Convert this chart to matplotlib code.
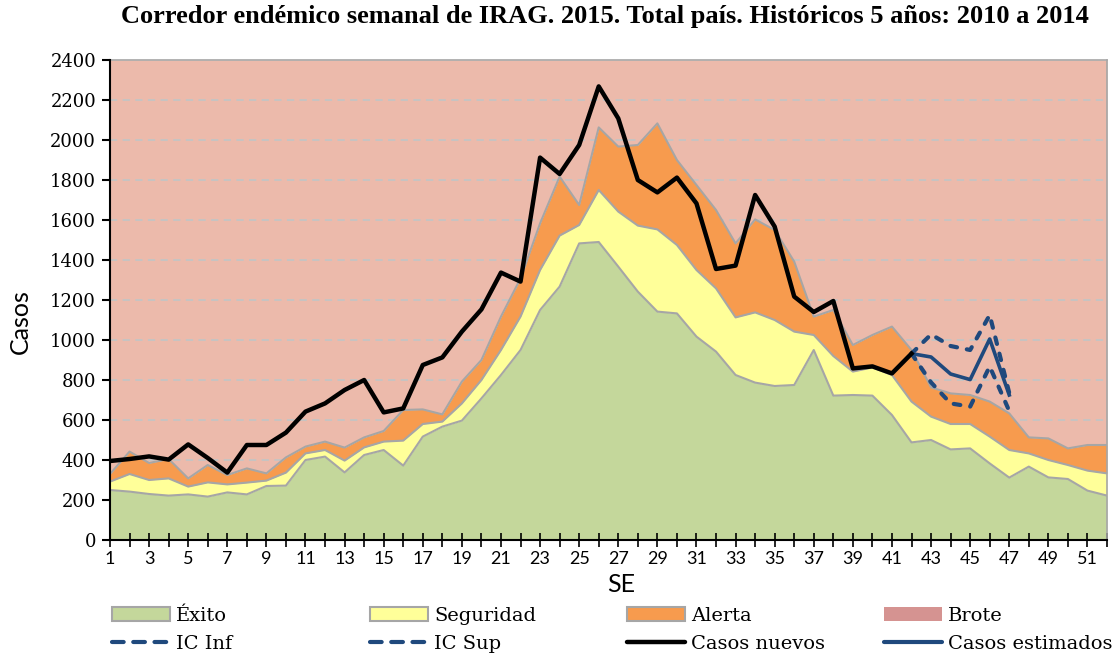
import matplotlib.pyplot as plt
from matplotlib.patches import Patch
from matplotlib.lines import Line2D

# semanas epidemiologicas
semanas = list(range(1, 53))

# limites del corredor (valores acumulados)
exito_top = [250, 242, 230, 222, 228, 217, 238, 228, 270, 272, 400, 417, 338, 425, 450, 372,
             517, 567, 597, 708, 825, 950, 1150, 1267, 1483, 1490, 1367, 1242, 1142, 1133,
             1017, 942, 825, 787, 770, 775, 950, 722, 725, 722, 625, 488, 500, 453, 458, 383,
             312, 367, 313, 305, 247, 222]
seguridad_top = [292, 330, 300, 308, 267, 288, 278, 287, 297, 337, 433, 450, 397, 463, 492, 497,
                 580, 592, 683, 800, 950, 1117, 1350, 1522, 1575, 1750, 1642, 1572, 1553, 1475,
                 1350, 1258, 1113, 1138, 1100, 1042, 1025, 920, 842, 863, 825, 692, 617, 580,
                 580, 517, 450, 433, 400, 375, 347, 333]
alerta_top = [330, 442, 385, 405, 308, 375, 325, 358, 333, 413, 467, 492, 462, 513, 545, 650,
              653, 628, 792, 900, 1117, 1308, 1583, 1817, 1675, 2063, 1967, 1975, 2083, 1900,
              1775, 1650, 1483, 1603, 1550, 1392, 1117, 1150, 975, 1025, 1067, 950, 763, 733,
              725, 692, 633, 513, 508, 458, 475, 475]
brote_top = 2400

# casos notificados 2015
semanas_casos = list(range(1, 43))
casos_nuevos = [395, 405, 418, 402, 478, 410, 337, 475, 475, 537, 642, 683, 750, 800, 638, 658,
                875, 913, 1042, 1153, 1337, 1292, 1912, 1830, 1975, 2268, 2108, 1800, 1738, 1812,
                1683, 1355, 1372, 1725, 1567, 1217, 1140, 1195, 858, 868, 833, 932]

# estimados con intervalo de confianza
semanas_est = [42, 43, 44, 45, 46, 47]
casos_estimados = [932, 915, 830, 802, 1005, 725]
ic_sup = [932, 1028, 970, 950, 1125, 735]
ic_inf = [932, 788, 683, 667, 868, 645]

plt.rcParams['font.family'] = ['DejaVu Serif']

fig = plt.figure(figsize=(11.18, 6.55), dpi=100)
ax = fig.add_axes([110 / 1118, 115 / 655, 997 / 1118, 480 / 655])

borde = '#A6A6A6'
ax.fill_between(semanas, alerta_top, brote_top, color='#ECBAAB', lw=0, zorder=0.2)
for v in range(200, 2400, 200):
    ax.axhline(v, color='#C4C4C4', lw=1.3, dashes=(4, 3), zorder=0.6)
ax.fill_between(semanas, 0, exito_top, color='#C4D79B', lw=0, zorder=1)
ax.fill_between(semanas, exito_top, seguridad_top, color='#FFFF99', lw=0, zorder=1)
ax.fill_between(semanas, seguridad_top, alerta_top, color='#F79B4E', lw=0, zorder=1)
for top in (exito_top, seguridad_top, alerta_top):
    ax.plot(semanas, top, color=borde, lw=1.5, zorder=1.5)

azul = '#1F497D'
ax.plot(semanas_est, ic_inf, color=azul, lw=3, dashes=(1.6, 2.4), dash_capstyle='round', zorder=3)
ax.plot(semanas_est, ic_sup, color=azul, lw=3, dashes=(1.6, 2.4), dash_capstyle='round', zorder=3)
ax.plot(semanas_est, casos_estimados, color=azul, lw=2.6, zorder=3)
ax.plot(semanas_casos, casos_nuevos, color='black', lw=3.2, zorder=4)

ax.set_xlim(1, 52)
ax.set_ylim(0, 2400)
ax.set_yticks(range(0, 2401, 200))
ax.set_xticks(semanas)
ax.set_xticklabels([str(s) if s % 2 == 1 else '' for s in semanas], family='Lato')
ax.tick_params(axis='y', direction='out', length=6, width=1.5, labelsize=13, pad=4)
ax.tick_params(axis='x', direction='inout', length=10, width=1.2, labelsize=13, pad=3)
for s in ('left', 'bottom'):
    ax.spines[s].set_color('black')
    ax.spines[s].set_linewidth(1.5)
    ax.spines[s].set_zorder(5)
for s in ('top', 'right'):
    ax.spines[s].set_color(borde)
    ax.spines[s].set_linewidth(1.2)

ax.set_ylabel('Casos', family='Lato', fontsize=18)
ax.yaxis.set_label_coords(-0.078, 0.456)
ax.set_xlabel('SE', family='Lato', fontsize=18)
ax.xaxis.set_label_coords(0.5125, -0.068)

fig.suptitle('Corredor endémico semanal de IRAG. 2015. Total país. Históricos 5 años: 2010 a 2014',
             family='Liberation Serif', fontsize=19, fontweight='bold', x=605 / 1118, y=0.992)

# leyenda en 4 columnas fijas
guion = dict(color=azul, lw=3, dashes=(2.8, 2.3), dash_capstyle='round')
columnas = [
    (Patch(facecolor='#C4D79B', edgecolor=borde, lw=1.5), 'Éxito',
     Line2D([], [], **guion), 'IC Inf'),
    (Patch(facecolor='#FFFF99', edgecolor=borde, lw=1.5), 'Seguridad',
     Line2D([], [], **guion), 'IC Sup'),
    (Patch(facecolor='#F79B4E', edgecolor=borde, lw=1.5), 'Alerta',
     Line2D([], [], color='black', lw=3.2, solid_capstyle='round'), 'Casos nuevos'),
    (Patch(facecolor='#D59391', edgecolor='none'), 'Brote',
     Line2D([], [], color=azul, lw=3, solid_capstyle='round'), 'Casos estimados'),
]
x0s = [112, 370, 627, 884]
for x0, (h1, l1, h2, l2) in zip(x0s, columnas):
    fig.legend([h1, h2], [l1, l2], loc='upper left', bbox_to_anchor=(x0 / 1118, 1 - 607 / 655),
               frameon=False, fontsize=14, handlelength=3.0, handleheight=0.7,
               handletextpad=0.3, labelspacing=0.49, borderpad=0, borderaxespad=0)

fig.savefig('out.png', dpi=100)
